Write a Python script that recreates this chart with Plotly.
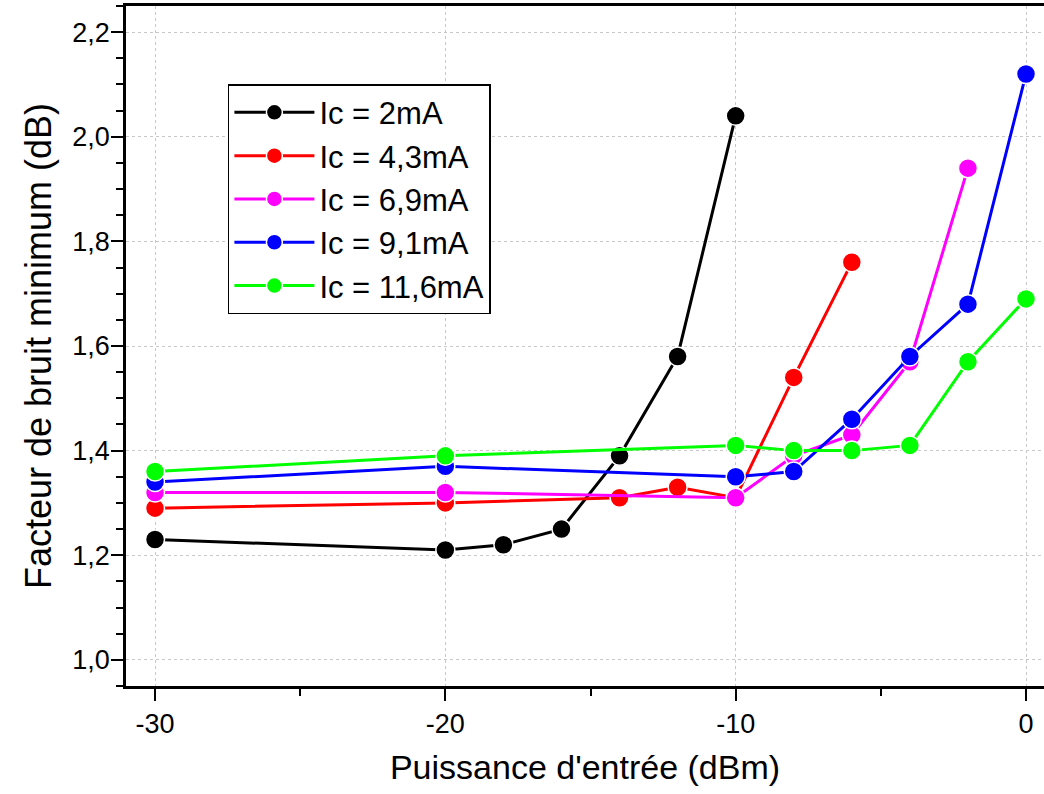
import plotly.graph_objects as go

# Data
x_2mA = [-30, -20, -18, -16, -14, -12, -10]
y_2mA = [1.23, 1.21, 1.22, 1.25, 1.39, 1.58, 2.04]

x_43mA = [-30, -20, -14, -12, -10, -8, -6]
y_43mA = [1.29, 1.30, 1.31, 1.33, 1.31, 1.54, 1.76]

x_69mA = [-30, -20, -10, -8, -6, -4, -2]
y_69mA = [1.32, 1.32, 1.31, 1.39, 1.43, 1.57, 1.94]

x_91mA = [-30, -20, -10, -8, -6, -4, -2, 0]
y_91mA = [1.34, 1.37, 1.35, 1.36, 1.46, 1.58, 1.68, 2.12]

x_116mA = [-30, -20, -10, -8, -6, -4, -2, 0]
y_116mA = [1.36, 1.39, 1.41, 1.40, 1.40, 1.41, 1.57, 1.69]

x_tick_values = [-30, -20, -10, 0]
x_tick_labels = ["-30", "-20", "-10", "0"]
y_tick_values = [1.0, 1.2, 1.4, 1.6, 1.8, 2.0, 2.2]
y_tick_labels = ["1,0", "1,2", "1,4", "1,6", "1,8", "2,0", "2,2"]

series = [
    ("Ic = 2mA", x_2mA, y_2mA, "#000000"),
    ("Ic = 4,3mA", x_43mA, y_43mA, "#FF0000"),
    ("Ic = 6,9mA", x_69mA, y_69mA, "#FF00FF"),
    ("Ic = 9,1mA", x_91mA, y_91mA, "#0000FF"),
    ("Ic = 11,6mA", x_116mA, y_116mA, "#00FF00"),
]

FONT = "Liberation Sans, Arial, sans-serif"

fig = go.Figure()
for name, xs, ys, col in series:
    fig.add_trace(go.Scatter(
        x=xs, y=ys, name=name, mode="lines+markers",
        line=dict(color=col, width=3),
        marker=dict(color=col, size=19, line=dict(color="white", width=1.5)),
    ))

fig.update_layout(
    width=1044, height=794,
    margin=dict(l=126, r=0, t=6, b=108),
    plot_bgcolor="white", paper_bgcolor="white",
    font=dict(family=FONT, color="black"),
    legend=dict(
        x=0.111, y=0.885, xanchor="left", yanchor="top",
        bordercolor="black", borderwidth=1.5, bgcolor="white",
        font=dict(size=31, family=FONT, color="black"),
        itemwidth=80,
    ),
    showlegend=True,
)

fig.update_xaxes(
    range=[-31.0, 0.62], automargin=False,
    tickmode="array", tickvals=x_tick_values, ticktext=x_tick_labels,
    ticks="outside", ticklen=12, tickwidth=2, tickcolor="black",
    showline=True, linecolor="black", linewidth=2.5, mirror=True,
    showgrid=True, gridcolor="#c8c8c8", gridwidth=1, griddash="dot",
    zeroline=False,
    tickfont=dict(size=27, family=FONT),
    minor=dict(tickmode="linear", dtick=5, tick0=0, ticks="outside", ticklen=7, tickwidth=2, tickcolor="black", showgrid=False),
    title=dict(text="Puissance d'entrée (dBm)", font=dict(size=34, family=FONT), standoff=18),
)
fig.update_yaxes(
    range=[0.95, 2.25], automargin=False,
    tickmode="array", tickvals=y_tick_values, ticktext=y_tick_labels,
    ticks="outside", ticklen=12, tickwidth=2, tickcolor="black",
    ticklabelstandoff=-4,
    showline=True, linecolor="black", linewidth=2.5, mirror=False,
    showgrid=True, gridcolor="#c8c8c8", gridwidth=1, griddash="dot",
    zeroline=False,
    tickfont=dict(size=27, family=FONT),
    minor=dict(tickmode="linear", dtick=0.05, tick0=1.0, ticks="outside", ticklen=7, tickwidth=2, tickcolor="black", showgrid=False),
    title=dict(text="Facteur de bruit minimum (dB)", font=dict(size=36, family=FONT), standoff=10),
)

fig.write_html("out.html", config={"displayModeBar": False},
               post_script="document.body.style.margin='0px';")
